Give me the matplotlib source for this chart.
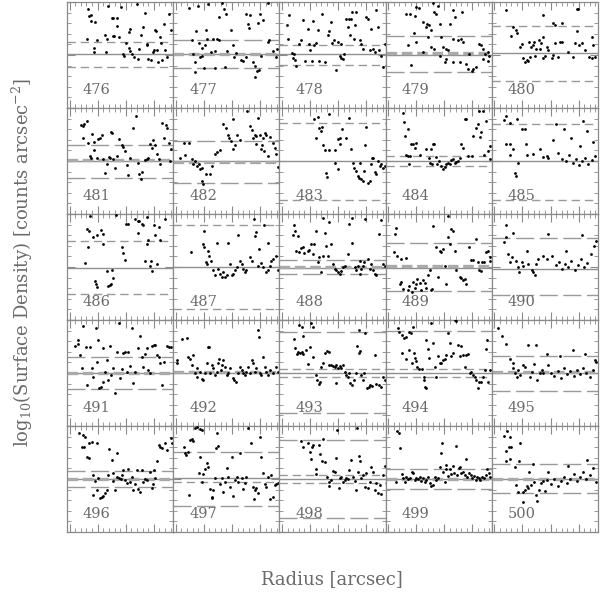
import matplotlib
matplotlib.use("Agg")
import matplotlib.pyplot as plt
from matplotlib.ticker import MultipleLocator, NullFormatter

plt.rcParams['font.family'] = ['DejaVu Serif']
plt.rcParams['mathtext.fontset'] = 'dejavuserif'

panel_ids = list(range(476, 501))

# points per panel: (radius [panel units 0-100], log density [panel units 0-100])
p476 = [(19.5,93),(21,87),(22.6,88),(23,82),(26,81.5),(18.5,65),(25,56.5),(25.8,53),(28,64),(36,69),(38,65),(37,53),(39,96.5),(42,84.5),(43.7,85),(47,85),(43,68),(44.3,67.5),(47,77),(49,67),(50.6,95),(52.5,50.5),(54,49),(56,61),(58,56.5),(58.8,72),(59.4,74.5),(59.4,54),(61,51),(63,48.5),(67,46),(68,55.5),(69.8,69),(71.4,76.5),(73,90),(75,59),(75.8,60),(76.7,46),(79,45),(80.8,53),(83,74),(84,72.5),(82,54.5),(84.6,54.5),(86,43.5),(87.7,67),(88.6,61),(89.6,45),(91.5,79),(92.5,54.5),(95.6,89),(94,48.5),(98,74),(65.7,98)]
p477 = [(15,94.6),(23,96),(32.4,98),(45.8,99),(48,93),(50,89),(43,85.5),(54,74),(69,89),(72.5,88),(82,88.5),(84.5,83),(80,80),(70,79),(71.6,75.5),(89,98.7),(21,72.7),(31,74),(18,64),(24.6,61),(27,57),(30,59),(32,65.4),(37.7,64.8),(41,65.4),(43,64),(35.8,52.7),(39,54),(25,48),(19,51),(20.6,43),(20.6,34),(27.4,49.5),(51,54),(56,59),(59.5,51.7),(64,45.7),(65.7,44),(68.8,48),(75,43),(76.6,40),(79,34.6),(80.7,36),(76.6,29.5),(83,49.5),(89,62),(90.6,64),(94,54),(98,56),(97,48),(39,38),(49,38.4),(29,38),(57,48)]
p478 = [(9.4,87.6),(7,78),(8,65.4),(12,51.7),(14,51),(13,47.3),(15,45.4),(15.7,40),(18,60.6),(20.4,64.4),(22.6,83),(24.5,44.8),(26.7,75),(27.7,60.6),(29,54.3),(30.8,44.8),(31.4,82.2),(33,59),(34.6,61.3),(36,74),(37.7,44.8),(40,88.6),(42.5,43),(45.6,68.6),(47,72.7),(48.7,81.3),(49.7,61.3),(51,64.4),(53.5,36),(55.3,62),(56.6,48.6),(58,47),(59.7,46.3),(58,60.6),(60.4,51),(63,84.4),(65.4,84.4),(67.6,84.4),(64.5,76.5),(70.8,78),(72.3,90.8),(68.6,90.8),(66.7,68.6),(69.8,65.4),(75.5,64.4),(77,60.6),(78.6,56),(81.8,86),(83.3,84.4),(85,54.3),(86.5,75),(88,56),(89.6,52.7),(91,92.4),(92.8,76.5),(93.7,54.3),(96,49.5),(97.5,38.4),(99,60.6)]
p479 = [(19,88.6),(22.6,88.6),(29,95.6),(31.5,94),(28,86.7),(35,81.3),(39,79),(41,78),(43,74),(38,76.5),(45,99),(47.8,88.6),(49.3,96),(46,91),(51,79.7),(52.5,67),(54,58),(56.6,56),(58.8,54.3),(60.4,79.7),(63,92.4),(65,86),(63.5,65.4),(68,63.8),(71,65.4),(73,62),(72.3,90.8),(21,59),(29,62),(27,70.8),(24,41),(35,52.7),(39.6,67),(43,58),(46,56),(51,49.5),(55.6,43),(57,46.3),(63.5,43),(69.8,43),(76,41.6),(77.7,36.8),(81,35),(82.4,36.8),(85.5,38.4),(88,60.6),(90,59),(92,56),(93.7,51),(96,52.7),(97.7,49.5),(96.8,44.8),(79,51),(92,46.3)]
p480 = [(13.8,92.4),(19.5,76.5),(22.6,73.6),(23.9,71),(18.2,67.6),(26.4,57.5),(28,60.6),(29.6,47.3),(31,43),(33,45.4),(34.5,44),(36,48),(35.2,62),(36.6,57.5),(38.4,59),(40,62),(40.6,49.5),(42,55.6),(44.7,64),(46,61),(48.4,87.6),(50,49.5),(51.6,57.5),(53,54.3),(80,93.4),(81,93),(57.5,80),(59.4,78),(65.7,80),(48.4,67),(59.4,61),(64,62.6),(65.7,62),(78.3,61),(82,59.4),(84.6,61.6),(94,67),(95.6,59.4),(45.3,55.4),(72,53),(80,73),(87.7,54.7),(48.4,47),(56.3,47),(57.8,50),(62.5,48.4),(76.7,48.4),(91.8,48.4),(94,47),(97,48.4)]
p481 = [(13,84),(14.8,83),(16,84.6),(19,87.7),(15.4,71.4),(20,67.3),(23.6,75.8),(25.8,68.2),(25,60),(21.7,54.7),(23,53),(29,71),(31,71.4),(33,74.5),(34.3,51.6),(35.8,38.4),(37.4,46.9),(40,54),(41.5,77.4),(42,76),(43.7,51.6),(45.3,43.7),(47.5,55),(49.4,70.4),(51.6,64.8),(53.2,63.5),(54.7,59.4),(56.3,46.2),(57.8,36.8),(59.4,53),(62.6,81.4),(65,92.4),(66.4,48.4),(68.2,37.4),(69.5,33.3),(70.4,40),(73.6,50.6),(75,52),(76.7,53),(77.7,66.4),(79.8,62.6),(81.4,69.5),(83,65),(84.6,56.9),(86.2,52),(87.7,46.9),(89.3,85.5),(90.9,72),(93.4,83.6),(94.6,80.8),(96.2,67.3),(97.8,61.6),(97.2,50),(28.6,53),(40.6,52.5)]
p482 = [(10.3,67.3),(15.3,67.3),(6.6,53),(11.2,55.7),(17.5,51.6),(19,47.5),(20.6,50),(22,45.3),(24.7,46.9),(25.3,42),(27,43),(27,31),(28.4,28.6),(31,38),(34.7,37.4),(36.2,45.3),(39.4,56.3),(41,58.5),(44,60.4),(47,84.6),(49.7,81.4),(52,75),(53,72),(54.4,69),(56,89.3),(56.6,61),(58,65),(60,75),(63,69.5),(69.7,97),(72.2,83),(73.8,79),(75.3,71.4),(77,75),(78.4,73.3),(80,90.9),(81.6,75),(82.5,61),(84.7,72),(86,76.4),(87.8,75),(89.4,54.7),(91,72.6),(94,67.3),(95.6,62.6),(97,56.3),(98.8,44.7),(84,64.8),(85.6,59.4),(78.4,66.4)]
p483 = [(33,89.3),(36,91.8),(37.7,81.4),(40,82),(39.3,78.3),(34,72),(40.9,65),(47,94),(43.4,60),(46.5,60),(52,60),(55,71),(57.2,71.4),(56.6,65.7),(59,79.9),(65.4,90.3),(62.9,71.4),(67.6,61),(44,38.4),(45,35.2),(52.8,47.8),(55,42),(69,48.4),(70.7,43.7),(72.3,40.6),(74,35.8),(74.8,34.3),(77,32.7),(78.6,31),(80,41),(81.7,82),(81,65),(83.3,29.6),(85,31),(86.5,47),(88,53),(89.6,40),(91,37.4),(92.8,50),(94.3,45.3),(96,47),(97.5,43.7),(99,45.3),(87.4,52.5),(75.5,48.4)]
p484 = [(16,95.6),(17,87),(18,73.6),(21,80),(24,66.4),(25.8,65.7),(27.4,62.6),(28.3,67.3),(19,55.7),(21,54.7),(22.6,54.7),(22,46.9),(32,55.7),(38,61),(40.9,53),(43,61),(44.7,65.7),(46,66.4),(41.5,48.4),(44,46.9),(47,53.8),(48.4,46.9),(50.3,50),(52.5,45.3),(54,42.8),(55.6,44.3),(57,46.9),(58.8,48.4),(60.4,46.9),(62,50.6),(63.5,51.6),(65,48.4),(66.7,49.4),(68.2,50),(70,53),(71.4,65.7),(73,62.6),(74.5,89.3),(75.5,89.3),(77.7,55),(81,55),(82.4,73.6),(85.5,81.4),(87,84.6),(88.7,72.6),(88,97),(90,77),(92,97),(92.5,56),(95,88),(96.5,59.4),(98,64),(98.7,51.6)]
p485 = [(13.8,92.4),(11.3,88.4),(17,86),(24,90),(28,79.8),(31,79.8),(13.8,65.7),(17,65.7),(17,55.7),(20,61),(21.7,39),(22.6,35.8),(24.8,48.4),(33,55.7),(32,66.4),(39,57),(45,61),(48.4,54),(51.6,55),(53,53),(58,70),(62,58),(66,52),(70,50),(73,56),(76,48),(79,52),(82,46),(85,50),(88,53),(91,47),(94,51),(97,55),(60,85),(68,80),(75,72),(83,64),(90,78),(95,68),(86,88)]
p486 = [(21.7,98),(18.5,85.7),(21,84),(20,68.5),(24.2,78),(28,80),(31.8,84.7),(33.6,81),(34.3,71.7),(17.3,54),(26.4,36.4),(27,34.3),(28,31.2),(37.4,45.8),(39,31.8),(40.5,32.7),(41.5,34.3),(43.7,40),(42,46.7),(46,99),(51.6,69),(53,63),(54.7,56.7),(55.6,91),(57.8,91),(64,95),(66.4,93.5),(68,93),(70.4,91),(71.4,89.7),(67.3,82.5),(73.6,55.4),(75,71.7),(75.8,97),(76.7,75.4),(78.3,51),(79,56),(79.8,45.8),(82,89.7),(83,80.4),(84.6,53),(86.2,88),(87.7,75.4),(92.5,95)]
p487 = [(16.5,64.5),(29,83.5),(27.8,71.7),(29,69),(30.9,54.5),(31.5,53),(33,64.8),(33.8,60.7),(36,56),(37.8,46.7),(39.4,42),(41,72.3),(42.5,48.3),(44,43),(45.6,41),(47,45),(48.7,40.5),(50.3,42),(51.8,72.3),(53.4,53),(55,42),(56.6,43.6),(58,46.7),(59.7,49.8),(60.6,80),(62.8,56),(64.4,53),(66,48.3),(67.5,45),(69,46.7),(72,59),(73.8,56),(77,79),(77.8,83),(76,95),(79.4,51.4),(81,66.7),(83,54.2),(84.7,49.8),(85.3,89.7),(87.8,45),(89.4,47.3),(91,51.4),(92.5,56),(94,57.6),(97,60.7),(98.8,46.7),(89.4,73)]
p488 = [(12.6,80),(14,89.7),(15,83.5),(17.3,78.8),(15.7,65.4),(18.2,63.8),(20.4,68),(22,69),(23.6,63),(26.7,65.4),(28.3,66),(30,71.7),(31.4,62.3),(33,71.7),(34,84),(36,54.5),(37.7,59),(39.3,45),(41,60),(42.5,82),(41,96.6),(44,70),(45.6,60.7),(47,92),(48.7,71.7),(50.3,53),(52,48.3),(53.5,46.7),(55,45),(56.6,43.6),(58,46),(59.7,49.8),(61.3,51.4),(64.5,62.3),(66,91),(68.6,96.6),(68.6,73),(70.8,49.8),(72.3,46.7),(74,51.4),(75.5,43),(77,48.3),(78.6,51.4),(80,54.5),(81,95),(83.3,57.6),(85,48.3),(86.5,53),(88,46.7),(89.6,43.6),(91,42),(93.7,81.6),(95.3,94),(97.5,53),(99,50.5),(75.5,56)]
p489 = [(8.5,81),(9.4,87),(7.5,64),(10.7,60.7),(14.8,57.6),(19,58.6),(13.2,33.6),(14.8,35.8),(16.4,29.6),(21,28),(22,31.8),(24.5,26.5),(25.8,35.8),(27.4,30.5),(29,34.3),(29.5,39),(32,35),(33.6,28),(35,37.4),(36.8,35),(38.4,30.5),(40,42),(41.5,46.7),(43,28),(44,29.6),(45,88.8),(47.8,68.5),(49.4,40.5),(51,65.4),(52.5,63.8),(54,67),(55.6,51.4),(57,34.3),(58.8,78),(60.4,71.7),(62,85.7),(63.5,84),(65,65.4),(66.7,46.7),(69.8,40.5),(71.4,40),(73,38),(74.5,38.7),(76,34.3),(78.6,68.5),(80.8,56.7),(82.4,56.7),(85.5,76.4),(87,54.5),(88,47.3),(90,46),(91,54.5),(92.5,54.5),(95,63.8),(96.5,65.4),(98,56),(98.7,59),(58.8,98)]
p490 = [(13.8,89.7),(19.5,82.5),(11.3,74),(13.2,78.5),(15.4,62.3),(17,54.5),(18.9,59),(23,56),(25,49.8),(25.8,45),(28,54.5),(29.6,51.4),(32.7,65.4),(34.3,53),(37.4,46.7),(39,45),(40.5,42),(42,53),(43.7,57.6),(48.4,60.7),(51.6,57.6),(53,81),(57,60),(60,52),(63,55),(66,48),(69,53),(72,50),(75,56),(78,47),(81,52),(84,58),(87,50),(90,54),(93,62),(96,70),(98,75),(70,65),(85,80)]
p491 = [(7.5,75.8),(10,81),(10.7,77.4),(12.3,67),(15.4,94.3),(13.8,54.4),(17.9,74.8),(19.2,38.7),(21.7,74.8),(23.3,54.4),(24.8,46.5),(27.4,92),(28.6,60.7),(29.6,81),(30.6,35.5),(31.8,37),(33.6,73.3),(34.3,41.8),(35.8,51.3),(37.4,62.3),(39,43.4),(40.6,75.5),(41.2,48),(43.7,54.4),(45.3,30.8),(47,70),(49.4,97.5),(50,45),(51.6,53.5),(53,68.5),(54.7,70),(56.3,51.3),(57.8,70),(59.4,57),(61,92),(62.6,41),(64.2,51.3),(66.4,73.3),(68.9,85),(70.4,65.4),(72,56),(73.6,68),(75,73.3),(76.7,53),(78.3,50.3),(80,75.5),(82,76.4),(83,76),(84.6,67),(86.2,65.4),(87.7,59),(89.3,38.7),(91.5,60.7),(94,75.5),(95.6,74.2),(97.8,74.8)]
p492 = [(3.4,59),(4,62.3),(8,81.7),(13.4,82.7),(14.4,65.4),(16,63),(19,67),(17.5,57.5),(20.6,49.7),(22,46.5),(22.8,54.4),(25.3,51.3),(27,44),(28.4,43.4),(30,49.7),(31.5,59.7),(32.5,74.8),(33.7,74.2),(34.7,49.7),(36.2,57.5),(37.8,54.4),(39.4,48),(41,51.3),(42.5,59),(43.5,62.8),(44.7,53),(45.6,57.5),(47,62.3),(48.7,56),(50.3,48),(51.8,49.7),(53.4,54.4),(56,45),(57.2,43.4),(59,41.8),(61,49.7),(62.8,56),(64.4,53),(66,49.7),(67.5,48),(69,51.3),(70.8,56),(72.3,49.7),(73.8,62.3),(75.3,59),(77,51.3),(78.4,54.4),(80,90.6),(81,84.3),(81.6,49.7),(83,48),(84.7,65.4),(86.3,56),(87.8,51.3),(89.4,48),(91,53),(94,49.7),(96.6,56),(98.8,51.3)]
p493 = [(14,81.8),(15,73.3),(17.3,70),(16.4,68),(19.5,68.5),(21.4,70),(22,68),(18.9,95),(21.4,93.7),(22.6,85),(25,71.7),(26.7,58.5),(29,74.8),(30,96.8),(31.4,93),(31.4,65.4),(34,48),(35.2,43.4),(37,40),(38.4,41.8),(39.3,56),(41.5,59.7),(43.4,69),(44.6,71),(47,70),(46.5,57.5),(48.7,57.5),(50.3,57),(52,56),(53.5,57.5),(55,54.4),(56.6,56.6),(58,54.4),(53.5,41),(59.7,57.5),(61.3,51.3),(62.9,48),(64.5,46.5),(66,49.7),(66.7,41),(68.6,38.7),(69.8,43.4),(72.3,50.3),(73,75.5),(74.8,68.5),(75.5,71),(74.8,90.6),(77,48),(78.6,43.4),(80,50.3),(81,87.4),(82.4,35.5),(84.3,37),(85.5,38.7),(87.4,37.7),(89.6,67),(91,40),(93.7,38.7),(96,37),(97.5,46.5),(99,43.4)]
p494 = [(11.6,92),(12.6,89),(15,86),(17,82.7),(19,84.3),(21.7,89),(23.9,87.4),(25.8,93),(22,71.7),(15,69),(19,63),(24.5,59),(26.7,68.5),(27.7,64),(29,61.6),(30,56),(31.8,53.5),(34,53.5),(35.8,43.4),(36.5,46),(37.4,37),(38.4,35.5),(38.4,81),(40,72.3),(41,64),(43,97),(44.7,78),(46.2,56),(47.8,46.5),(49.4,66),(51,59),(52.5,59.7),(54,62.3),(55.6,63),(57,67),(58.8,87.4),(60.4,78),(62,66),(63.5,69),(65,100),(66,99),(68.2,76.4),(70,66),(71.4,75.5),(73,66.7),(74.5,56),(76,67),(77.7,68),(79.2,49.7),(80.8,51.3),(82.4,48),(84,46.5),(85.5,43.4),(87,35.5),(88,41.8),(90,41.8),(92,46.5),(93.7,53),(94.6,72.3),(95.3,81),(96.8,41.8),(98,53)]
p495 = [(6,92),(10,85),(13.8,77),(17,63),(19.5,59),(20,54.4),(21.7,49.7),(23.3,46.5),(25,53),(26.4,48),(29,57.5),(31,56),(34.3,76.4),(35.8,46.5),(37.4,51.3),(39.6,58.5),(41.5,76.4),(42.8,43.4),(45,49.7),(47,53),(48.4,49.7),(51.6,68),(53,57.5),(56,50),(59,47),(62,52),(65,45),(68,55),(71,49),(74,52),(77,47),(80,53),(83,49),(86,55),(89,50),(92,46),(95,53),(98,60),(64,66),(76,72),(88,68),(97,62)]
p496 = [(11.6,93.7),(15,91.5),(13.8,80),(16,80.5),(17,89.3),(18.9,71),(21,69.5),(21,84.3),(23.3,85),(28.6,84.3),(24.2,53.8),(24.8,35),(26.4,48.4),(28,39.6),(29.6,50.6),(31.2,31.8),(33,32.7),(34.3,34),(35.8,36.5),(37.4,39.6),(39,53.8),(40,78),(42,68),(43,55.4),(43.7,48.4),(45.3,39.6),(47,52.2),(47.5,74.8),(49.4,50.6),(50.6,49.7),(51.6,53.8),(53.2,58.5),(54.7,49),(56.3,46),(57.8,59),(59.4,47.5),(61,52.2),(62.6,39.6),(64.2,45.3),(66,58.5),(67.3,40.2),(69,38),(70.4,58.5),(72,47.5),(73.6,49.7),(75.8,49),(77.7,57),(80,41.2),(80.8,45.3),(83,50.6),(84.6,67),(86.2,82),(87.7,80),(89.3,79),(92.5,83.6),(94,77.4),(97.8,88.4),(98.7,83.6),(82,58.5)]
p497 = [(10,80.5),(11.2,74.8),(12.2,72.6),(14.4,75.8),(16,86.8),(18,87.4),(19,86),(20.6,97.8),(22,99),(25.3,96.8),(27,96),(15.3,35),(24,56),(25.3,71),(27,47.5),(28.4,54.7),(30,59),(31.5,64.8),(33,61.6),(34.7,40.2),(36.2,32.7),(37,31.8),(37.8,39.6),(39.4,50.6),(40,79),(41,93),(42.5,81),(44,45.3),(45.6,50.6),(47,38),(48.7,47.5),(50.3,60),(51.8,52.2),(53.4,42.8),(55,70.4),(56.6,34),(58,49),(59.7,52.2),(61.2,47.5),(62.8,74.2),(64.4,50.6),(66,40.2),(67.5,45.9),(69,52.2),(70.8,97.8),(73,83.6),(74.8,42.8),(76,31),(77,39.6),(78.4,41.2),(80,36.5),(81.6,90),(83,71),(84.7,55.4),(86.3,45.3),(87.8,42.2),(89.4,52.2),(91,31),(92.5,53.8),(94,33.3),(95.6,44.4),(97,45.3),(98.8,46.5)]
p498 = [(20.4,86),(22.6,80),(26.7,83.6),(29,75.8),(30,68.5),(31.4,82.4),(30.8,80),(34,54.7),(34.6,59),(37,82.4),(38.4,74),(40,67),(41.5,87.4),(43.4,66),(44.6,52),(46.5,47.5),(47,43.4),(48.7,49),(50.3,57.9),(52,57),(53.5,69.8),(54,96.2),(56,41.2),(57.2,50.6),(58.2,52.2),(59.7,47.5),(61.3,49),(62.9,50.6),(64.5,49.7),(66,58.5),(67.6,68),(69.2,52.2),(70.8,48.4),(72.3,39.6),(73,97.8),(74,57),(74.8,71.4),(76,66.7),(77,50.6),(78.6,53.8),(80.2,42.8),(81.8,55.4),(83.3,41.2),(85,47.5),(86.5,61.6),(88,57),(89.6,39.6),(91.2,45.9),(92.8,36.5),(94.3,44.4),(96,35.8),(97.5,53.8),(99,62.3)]
p499 = [(10.7,95.6),(12.6,93.7),(13.8,79),(15,54.7),(16.4,50.6),(18,47.5),(19.5,52.2),(21,49.7),(22.6,50.6),(25,57),(25.8,55.4),(27.4,49),(29,50.6),(30.5,49.7),(32,52.2),(33.6,48.4),(35.2,50.6),(36.8,47.5),(38.4,49),(40,52.2),(41.5,46.5),(43,43.4),(44.7,44.4),(46.2,52.2),(47.8,49),(49.4,50.6),(51,61.6),(52,74.8),(53,84.3),(54,57),(55.6,47.5),(56.6,63.2),(57.2,59),(58.8,52.8),(60.4,59),(62,54.7),(63.5,62.3),(64,55.6),(66,81),(67.3,53.8),(69.2,60),(70.4,61.3),(71.4,55.4),(73,57),(74.5,53.8),(76,68.5),(76.7,52.2),(78.6,55.4),(80,53.8),(81.8,50.6),(83,52.8),(85,49),(86.2,52.2),(88,50.6),(89.3,49),(91.2,52.2),(92.5,50.6),(94.3,53.8),(95.6,59),(97.5,55.4),(98.7,52.2),(10,47.5)]
p500 = [(11.3,90.6),(14.5,95.6),(17,89.3),(13.8,76.7),(13.2,67.3),(16.4,80.5),(18.5,80),(17.6,68.5),(21.4,61.6),(23,44.4),(24.5,38),(25.8,66.7),(27,83.6),(29,28.6),(29.6,37.4),(31,40),(32.7,43),(34.3,41.5),(35.2,57),(36.5,44.4),(38.4,63.8),(39.6,47.5),(41.5,35),(42.8,29.6),(44.7,40),(46,46.5),(48.4,48),(50,38.7),(51.6,49),(53,57),(56,45),(59,50),(62,43),(65,48),(68,52),(71,46),(74,50),(77,55),(80,48),(83,52),(86,57),(89,50),(92,54),(95,60),(98,47),(72,62),(90,68)]

panel_points = [p476, p477, p478, p479, p480, p481, p482, p483, p484, p485,
                p486, p487, p488, p489, p490, p491, p492, p493, p494, p495,
                p496, p497, p498, p499, p500]

# solid (mean) level per panel
mid_level = [51, 51, 50.5, 50.2, 51.5, 49.7, 49.7, 49.7, 49.7, 49.7,
             49.2, 49.8, 49.0, 49.2, 48.3, 49.7, 50.3, 49.7, 49.7, 49.7,
             49.7, 51.3, 49.7, 49.7, 49.7]
# dashed levels and their styles (s = short dash, l = long dash, t = thick grey dash)
dash_levels = [[62.5, 39], [64, 51, 37.5], [59.7, 41], [68, 51.5, 33.7], [77, 25.7],
               [65, 50.6, 33.6], [68.9, 49, 29.6], [86, 13], [54.7, 45.3], [84.6, 13],
               [74.8, 25], [89.7, 10.3], [56.7, 50, 43], [72.3, 51.4, 27.4], [77.3, 23.4],
               [64.8, 50.3, 35], [50.6], [88.4, 53.5, 46.5, 12], [90, 53.5, 46.5], [66.4, 51.3, 33.3],
               [57.9, 50, 42], [75.2, 47.5, 24.5], [86.8, 53.8, 46, 13], [59.1, 50, 40.2], [63.8, 50, 36.5]]
dash_styles = ['ss', 'ltl', 'ss', 'ltl', 'ss',
               'ltl', 'ltl', 'ss', 'ss', 'ss',
               'ss', 'ss', 'ltl', 'ltl', 'll',
               'ltl', 't', 'lssl', 'lss', 'ltl',
               'ltl', 'lsl', 'lssl', 'ltl', 'ltl']

GREY = '#8a8a8a'
TXT = '#6a6a6a'

fig = plt.figure(figsize=(6.0, 6.01), dpi=100)
gs = fig.add_gridspec(5, 5, left=67/600, right=598/600, bottom=1-532/601, top=1-2/601,
                      wspace=0, hspace=0)

for k, pid in enumerate(panel_ids):
    r, c = divmod(k, 5)
    ax = fig.add_subplot(gs[r, c])
    ax.set_xlim(0, 100)
    ax.set_ylim(0, 100)
    ax.axhline(mid_level[k], color='#909090', lw=1.0, zorder=2)
    for lev, st in zip(dash_levels[k], dash_styles[k]):
        if st == 's':
            ax.axhline(lev, color='#999999', lw=1.0, dashes=(6, 3.5), zorder=2)
        elif st == 'l':
            ax.axhline(lev, color='#999999', lw=1.0, dashes=(13, 4), zorder=2)
        else:
            ax.axhline(lev, color='#aaaaaa', lw=2.4, dashes=(3.2, 1.4), zorder=2)
    xs = [p[0] for p in panel_points[k]]
    ys = [p[1] for p in panel_points[k]]
    ax.plot(xs, ys, 'o', color='black', ms=2.0, mew=0, zorder=3)
    ax.text(0.15, 0.13, str(pid), transform=ax.transAxes, ha='left', va='baseline',
            fontsize=10.5, color=TXT)
    ax.xaxis.set_major_locator(MultipleLocator(26.4, offset=2.5))
    ax.xaxis.set_minor_locator(MultipleLocator(5.28, offset=2.5))
    ax.yaxis.set_major_locator(MultipleLocator(50))
    ax.yaxis.set_minor_locator(MultipleLocator(10))
    ax.xaxis.set_major_formatter(NullFormatter())
    ax.yaxis.set_major_formatter(NullFormatter())
    ax.tick_params(which='both', direction='in', top=True, right=True, color=GREY,
                   labelbottom=False, labelleft=False)
    ax.tick_params(which='major', length=6, width=0.8)
    ax.tick_params(which='minor', length=3, width=0.6)
    for sp in ax.spines.values():
        sp.set_color(GREY)
        sp.set_linewidth(0.9)

fig.text(332/600, 1-579/601, 'Radius [arcsec]', ha='center', va='center', fontsize=13, color=TXT)
fig.text(22/600, 1-262/601, r'log$_{10}$(Surface Density) [counts arcsec$^{-2}$]',
         ha='center', va='center', rotation=90, fontsize=13, color=TXT)

fig.savefig('out.png', dpi=100)
